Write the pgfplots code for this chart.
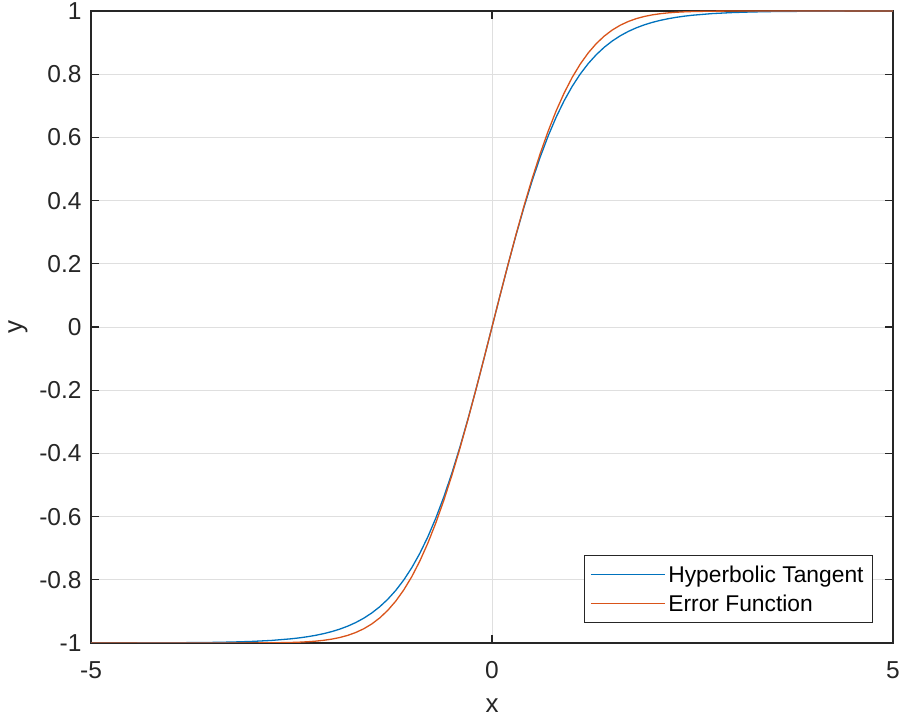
\documentclass[border=0pt]{standalone}
\usepackage{fontspec}
\setmainfont{Liberation Sans}
\usepackage{pgfplots}
\pgfplotsset{compat=1.18}
\definecolor{mblue}{rgb}{0,0.447,0.741}
\definecolor{morange}{rgb}{0.85,0.325,0.098}
\definecolor{axgray}{HTML}{262626}
\definecolor{gridgray}{HTML}{DFDFDF}
\begin{document}
\begin{tikzpicture}
% frame of the exported figure: axis box sits 91 px from the left, 79 px from the bottom
\useasboundingbox (-91bp,-79bp) rectangle (810bp,643bp);
\begin{axis}[scale only axis, width=802bp, height=632bp,
    xmin=-5, xmax=5, ymin=-1, ymax=1,
    xtick={-5,0,5}, xticklabels={-5,0,5},
    ytick={-1,-0.8,-0.6,-0.4,-0.2,0,0.2,0.4,0.6,0.8,1},
    yticklabels={-1,-0.8,-0.6,-0.4,-0.2,0,0.2,0.4,0.6,0.8,1},
    tick align=inside, major tick length=8bp,
    grid=major, major grid style={gridgray, line width=0.8bp},
    axis line style={axgray, line width=1.1bp},
    every tick/.style={axgray, line width=1.1bp},
    tick label style={font=\fontsize{24.5bp}{28bp}\selectfont, text=axgray},
    xticklabel style={yshift=-15bp},
    yticklabel style={xshift=-6bp},
    xlabel={x}, ylabel={y},
    label style={font=\fontsize{26bp}{30bp}\selectfont, text=axgray},
    xlabel style={at={(axis description cs:0.5,-0.0997)}, anchor=center},
    ylabel style={at={(axis description cs:-0.091,0.5)}, anchor=center, rotate=0},
    legend style={at={(axis description cs:1,0)}, anchor=south east,
        xshift=-20bp, yshift=20bp, draw=axgray, line width=0.9bp,
        font=\fontsize{22.8bp}{26bp}\selectfont, text=black,
        inner xsep=6bp, inner ysep=8bp, row sep=7bp,
        nodes={inner xsep=3bp}},
    legend cell align=left,
    legend image code/.code={\draw[#1, line width=1bp] (0bp,0bp) -- (74bp,0bp);},
    every axis plot/.append style={line width=1.3bp}]
\addplot[mblue] coordinates {
(-5,-0.99991) (-4.5,-0.99975) (-4,-0.99933) (-3.5,-0.99818) (-3.25,-0.99700)
(-3,-0.99505) (-2.75,-0.99186) (-2.5,-0.98661) (-2.4,-0.98367) (-2.3,-0.98010)
(-2.2,-0.97574) (-2.1,-0.97045) (-2,-0.96403) (-1.9,-0.95624) (-1.8,-0.94681)
(-1.7,-0.93541) (-1.6,-0.92167) (-1.5,-0.90515) (-1.4,-0.88535) (-1.3,-0.86172)
(-1.2,-0.83365) (-1.1,-0.80050) (-1,-0.76159) (-0.9,-0.71630) (-0.8,-0.66404)
(-0.7,-0.60437) (-0.6,-0.53705) (-0.5,-0.46212) (-0.4,-0.37995) (-0.3,-0.29131)
(-0.2,-0.19738) (-0.1,-0.09967) (0,0)
(0.1,0.09967) (0.2,0.19738) (0.3,0.29131) (0.4,0.37995) (0.5,0.46212)
(0.6,0.53705) (0.7,0.60437) (0.8,0.66404) (0.9,0.71630) (1,0.76159)
(1.1,0.80050) (1.2,0.83365) (1.3,0.86172) (1.4,0.88535) (1.5,0.90515)
(1.6,0.92167) (1.7,0.93541) (1.8,0.94681) (1.9,0.95624) (2,0.96403)
(2.1,0.97045) (2.2,0.97574) (2.3,0.98010) (2.4,0.98367) (2.5,0.98661)
(2.75,0.99186) (3,0.99505) (3.25,0.99700) (3.5,0.99818) (4,0.99933)
(4.5,0.99975) (5,0.99991)};
\addlegendentry{Hyperbolic Tangent}
\addplot[morange] coordinates {
(-5,-1) (-4.5,-1) (-4,-1) (-3.5,-0.99999) (-3.25,-0.99995)
(-3,-0.99983) (-2.75,-0.99943) (-2.5,-0.99827) (-2.4,-0.99737) (-2.3,-0.99606)
(-2.2,-0.99417) (-2.1,-0.99151) (-2,-0.98781) (-1.9,-0.98275) (-1.8,-0.97593)
(-1.7,-0.96688) (-1.6,-0.95507) (-1.5,-0.93989) (-1.4,-0.92068) (-1.3,-0.89675)
(-1.2,-0.86741) (-1.1,-0.83200) (-1,-0.78991) (-0.9,-0.74067) (-0.8,-0.68397)
(-0.7,-0.61969) (-0.6,-0.54794) (-0.5,-0.46912) (-0.4,-0.38386) (-0.3,-0.29308)
(-0.2,-0.19793) (-0.1,-0.09974) (0,0)
(0.1,0.09974) (0.2,0.19793) (0.3,0.29308) (0.4,0.38386) (0.5,0.46912)
(0.6,0.54794) (0.7,0.61969) (0.8,0.68397) (0.9,0.74067) (1,0.78991)
(1.1,0.83200) (1.2,0.86741) (1.3,0.89675) (1.4,0.92068) (1.5,0.93989)
(1.6,0.95507) (1.7,0.96688) (1.8,0.97593) (1.9,0.98275) (2,0.98781)
(2.1,0.99151) (2.2,0.99417) (2.3,0.99606) (2.4,0.99737) (2.5,0.99827)
(2.75,0.99943) (3,0.99983) (3.25,0.99995) (3.5,0.99999) (4,1)
(4.5,1) (5,1)};
\addlegendentry{Error Function}
\end{axis}
\end{tikzpicture}
\end{document}
